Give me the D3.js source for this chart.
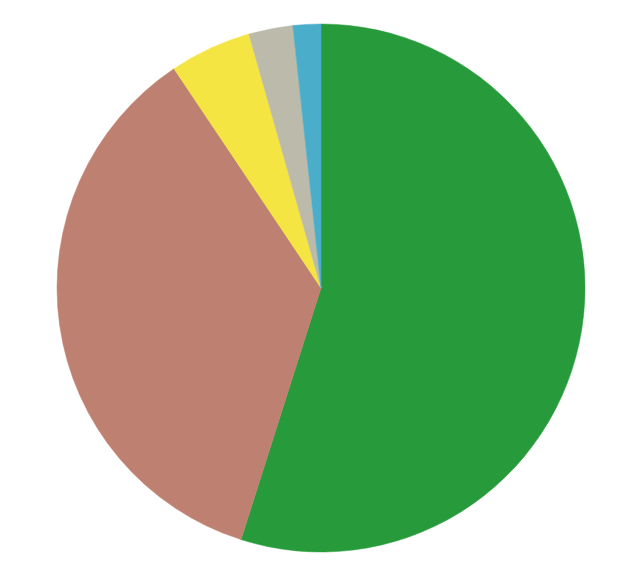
<!DOCTYPE html>
<html>
<head>
<meta charset="utf-8">
<script src="https://cdn.jsdelivr.net/npm/d3@7"></script>
<style>
  html, body { margin: 0; padding: 0; background: #ffffff; }
  svg { display: block; }
</style>
</head>
<body>
<svg id="chart" width="621" height="580"></svg>
<script>
const categories = ["A", "B", "C", "D", "E"];
const values = [54.9, 35.7, 5.0, 2.7, 1.7];
const colors = ["#279b3b", "#be8171", "#f4e542", "#bcbaaa", "#4aaecb"];

const width = 621, height = 580;
const cx = 321, cy = 288, radius = 264;

const svg = d3.select("#chart");
const g = svg.append("g").attr("transform", `translate(${cx},${cy})`);

const color = d3.scaleOrdinal().domain(categories).range(colors);
const pie = d3.pie().sort(null).value((d, i) => values[i]);
const arc = d3.arc().innerRadius(0).outerRadius(radius);

g.selectAll("path")
  .data(pie(categories))
  .join("path")
  .attr("d", arc)
  .attr("fill", d => color(d.data))
  .attr("stroke", d => color(d.data))
  .attr("stroke-width", 0.5);
</script>
</body>
</html>
